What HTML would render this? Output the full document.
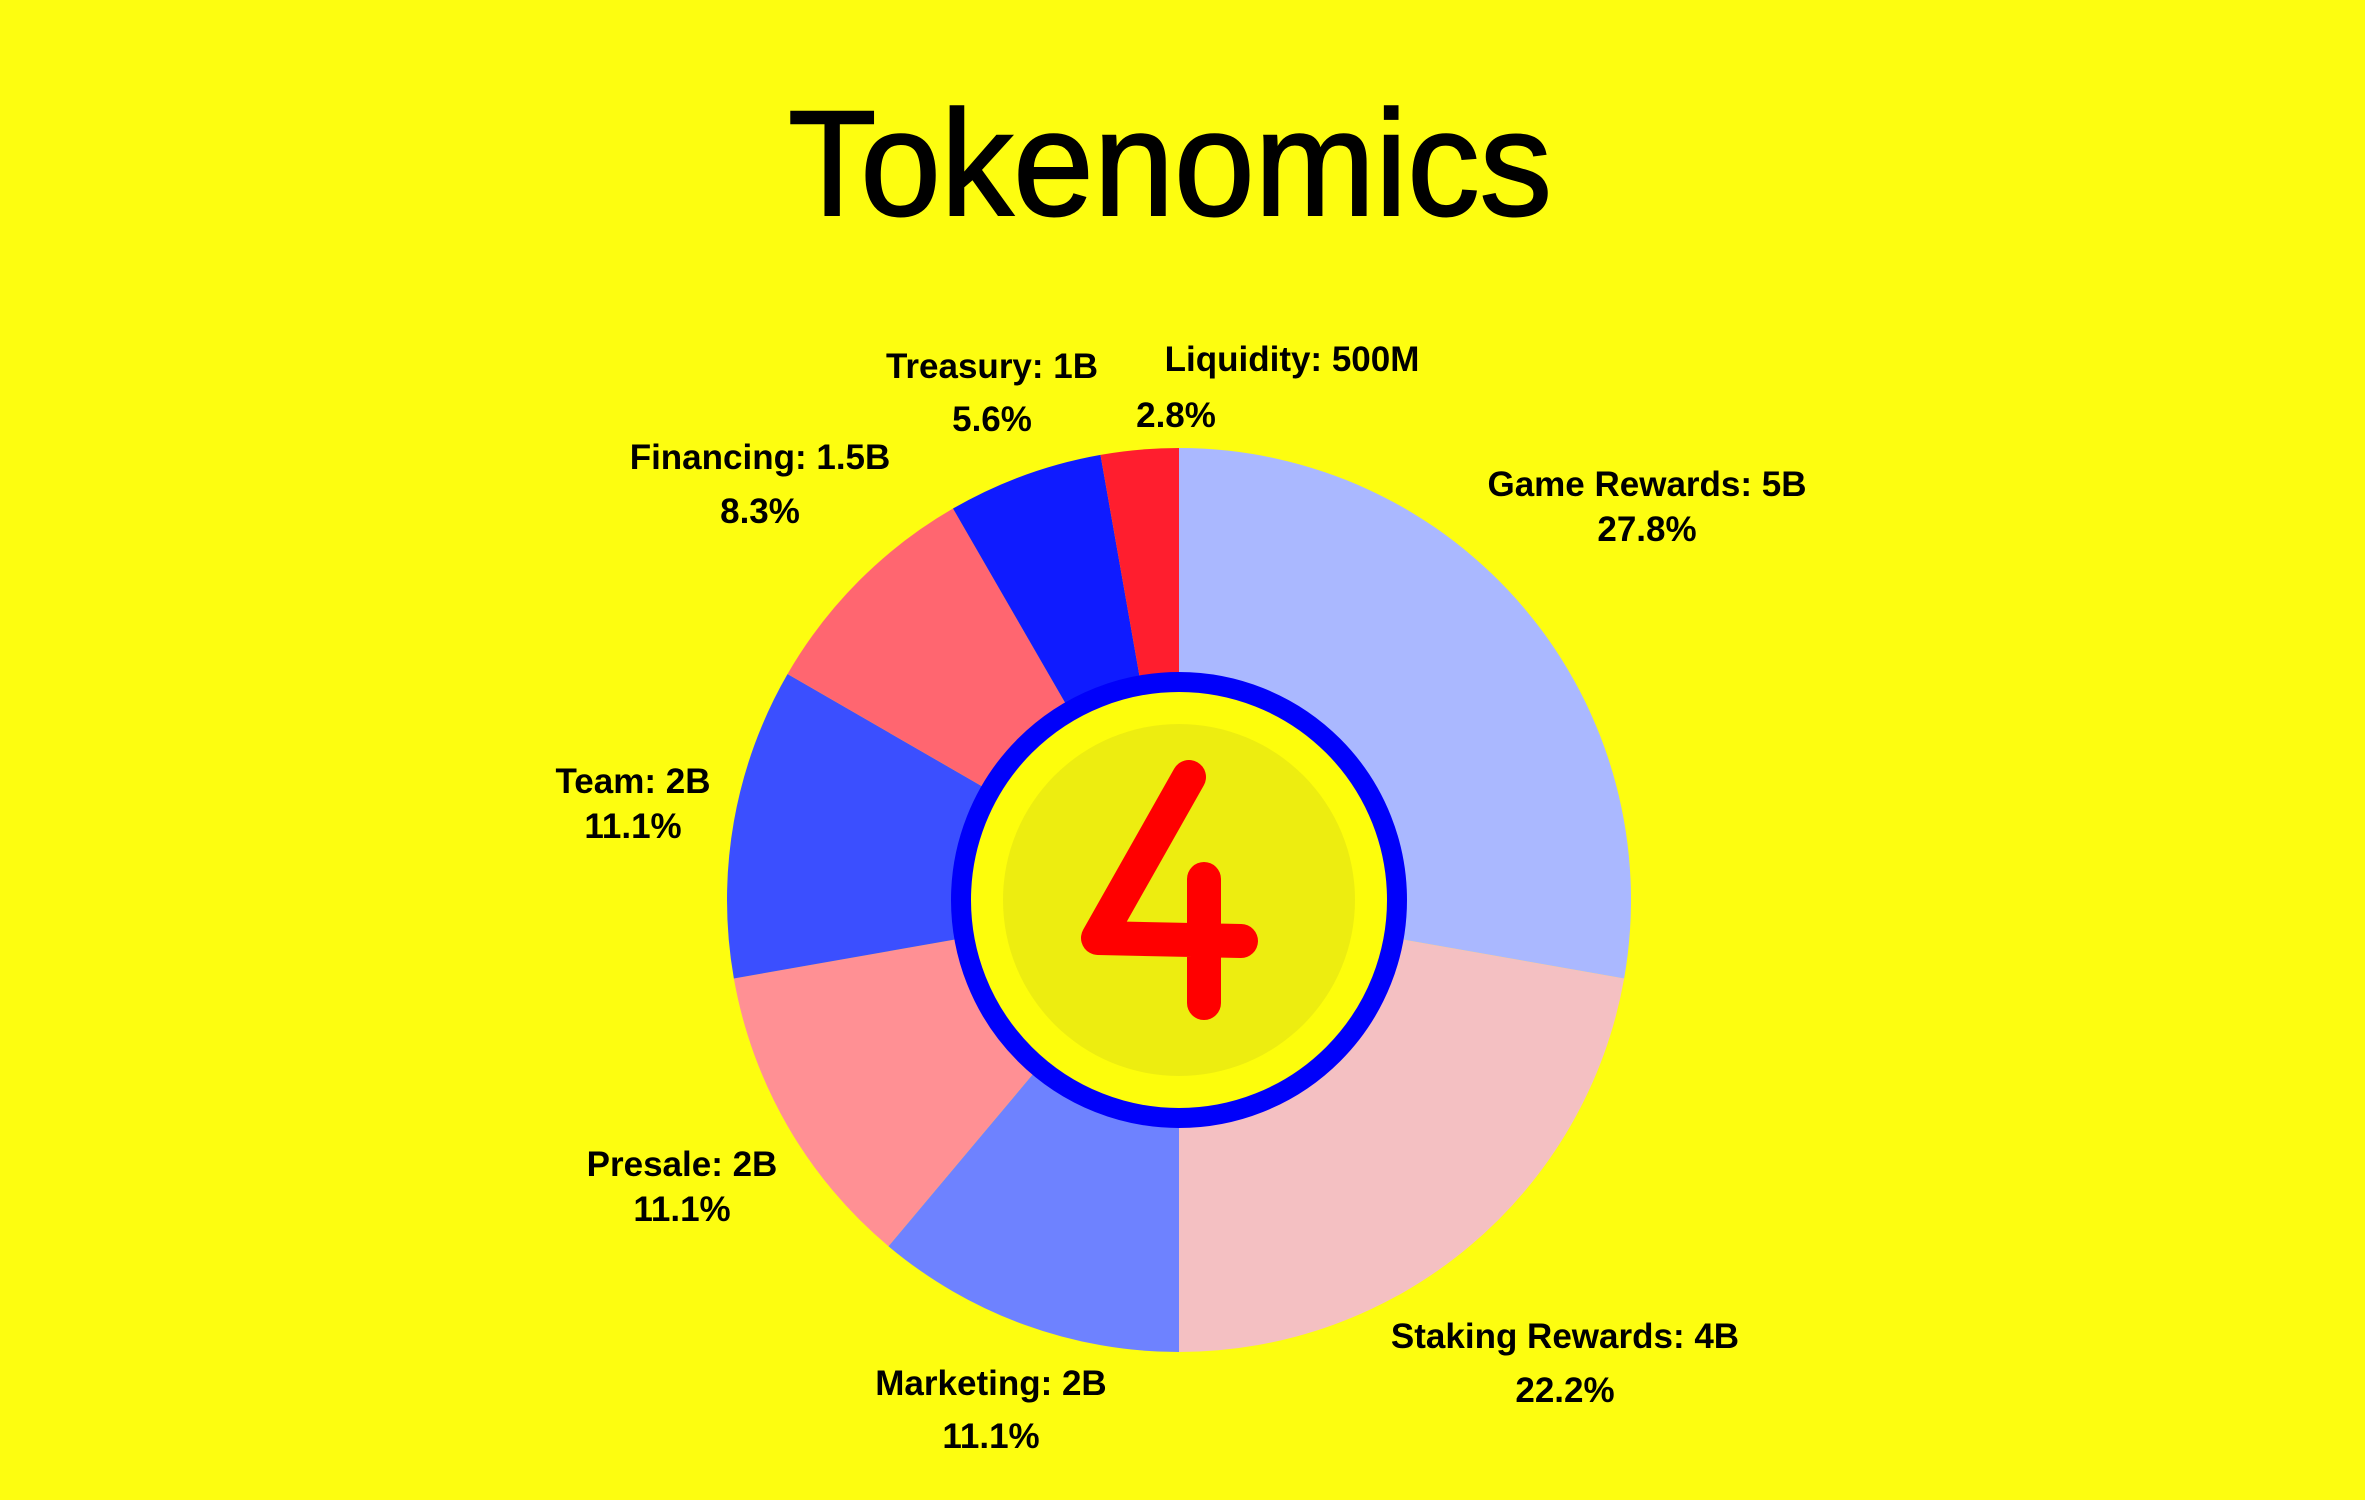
<!DOCTYPE html>
<html><head><meta charset="utf-8"><style>
html,body{margin:0;padding:0;background:#fdfd10;}
svg{display:block}
text{font-family:"Liberation Sans",sans-serif;font-weight:bold;fill:#000}
</style></head><body>
<svg id="chart" width="2365" height="1500" viewBox="0 0 2365 1500">
<rect width="2365" height="1500" fill="#fdfd10"/>
<text x="1170" y="215" text-anchor="middle" font-size="150" textLength="764" lengthAdjust="spacingAndGlyphs" stroke="#000" stroke-width="2" style="font-family:'Comic Sans MS','Liberation Sans',sans-serif;font-weight:normal">Tokenomics</text>
<g id="slices"></g>
<g id="labels"></g>
<circle cx="1179" cy="900" r="218" fill="#fdfd0c" stroke="#0000fa" stroke-width="20"/>
<circle cx="1179" cy="900" r="176" fill="#eded10"/>
<path d="M1189 777 L1098 938 L1241 941 M1204 879 L1204 1003" fill="none" stroke="#ff0000" stroke-width="34" stroke-linecap="round" stroke-linejoin="round"/>
</svg>
<script>
const categories = ["Game Rewards","Staking Rewards","Marketing","Presale","Team","Financing","Treasury","Liquidity"];
const amounts = [5,4,2,2,2,1.5,1,0.5];
const amountLabels = ["5B","4B","2B","2B","2B","1.5B","1B","500M"];
const colors = ["#aab8ff","#f4c0c2","#6e82ff","#ff9094","#3b4fff","#ff6670","#0f1bff","#ff1e2e"];
// label layout anchors [x1,y1,x2,y2]
const labelPos = [[1647,496,1647,541],[1565,1348,1565,1402],[991,1395,991,1448],[682,1176,682,1221],[633,793,633,838],[760,469,760,523],[992,378,992,431],[1292,371,1176,427]];
const cx = 1179, cy = 900, R = 452;
const total = amounts.reduce((a,b)=>a+b,0);
const ns = "http://www.w3.org/2000/svg";
const gS = document.getElementById('slices');
const gL = document.getElementById('labels');
function pt(a, r){ return [cx + r*Math.sin(a), cy - r*Math.cos(a)]; }
let start = 0;
amounts.forEach((v,i)=>{
  const ang = v/total*2*Math.PI;
  const end = start+ang;
  const [x1,y1] = pt(start,R), [x2,y2] = pt(end,R);
  const p = document.createElementNS(ns,'path');
  p.setAttribute('d',`M${cx} ${cy} L${x1} ${y1} A${R} ${R} 0 ${ang>Math.PI?1:0} 1 ${x2} ${y2} Z`);
  p.setAttribute('fill',colors[i]);
  
  
  gS.appendChild(p);
  const lp = labelPos[i];
  const pct = (v/total*100).toFixed(1) + '%';
  const t1 = document.createElementNS(ns,'text');
  t1.setAttribute('x', lp[0]); t1.setAttribute('y', lp[1]);
  t1.setAttribute('text-anchor','middle'); t1.setAttribute('font-size','35');
  t1.textContent = categories[i] + ': ' + amountLabels[i];
  
  
  gL.appendChild(t1);
  const t2 = document.createElementNS(ns,'text');
  t2.setAttribute('x', lp[2]); t2.setAttribute('y', lp[3]);
  t2.setAttribute('text-anchor','middle'); t2.setAttribute('font-size','35');
  t2.textContent = pct;
  
  
  gL.appendChild(t2);
  start = end;
});
</script>
</body></html>
